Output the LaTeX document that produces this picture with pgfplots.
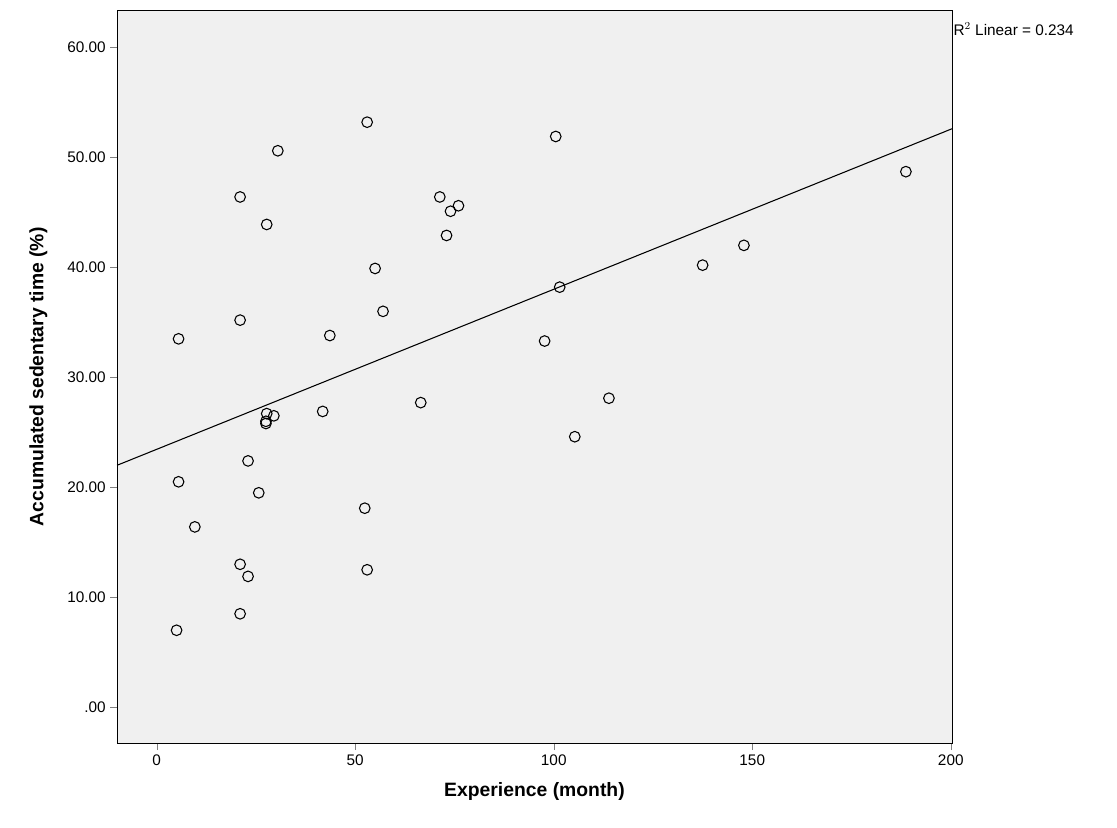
\documentclass[border=0pt]{standalone}
\usepackage{pgfplots}
\pgfplotsset{compat=1.18}
\usepackage{fontspec}
\setmainfont{Liberation Sans}
\definecolor{bg}{HTML}{F0F0F0}
\begin{document}
\begin{tikzpicture}
\begin{axis}[
  width=626pt, height=550pt, scale only axis,
  xmin=-10, xmax=200.3, ymin=-3.3, ymax=63.4,
  xtick={0,50,100,150,200},
  ytick={0,10,20,30,40,50,60},
  yticklabels={.00,10.00,20.00,30.00,40.00,50.00,60.00},
  tick align=outside, tick pos=left,
  major tick length=5pt,
  axis background/.style={fill=bg},
  ticklabel style={font=\fontsize{11.5}{13}\selectfont},
  /pgf/number format/assume math mode=true,
  xlabel={\bfseries Experience (month)},
  ylabel={\bfseries Accumulated sedentary time (\%)},
  label style={font=\fontsize{14.5}{16}\selectfont},
  xlabel style={yshift=-6pt},
  ylabel style={yshift=8pt},
  clip=false,
]
\addplot[only marks, mark=o, mark size=4pt, black, thick] coordinates {
(5.5,33.5)(5.5,20.5)(9.6,16.4)(5,7.0)(21,46.4)(21,35.2)(21,13.0)(23,11.9)
(21,8.5)(23,22.4)(25.7,19.5)(27.7,43.9)(30.5,50.6)(27.7,26.7)(29.5,26.5)
(27.5,26.0)(27.5,25.8)(41.8,26.9)(43.6,33.8)(53,53.2)(55,39.9)(57,36.0)
(52.4,18.1)(53,12.5)(66.5,27.7)(71.3,46.4)(74,45.1)(76,45.6)(73,42.9)
(100.5,51.9)(101.5,38.2)(97.7,33.3)(113.9,28.1)(105.3,24.6)(137.5,40.2)
(147.9,42.0)(188.7,48.7)};
\addplot[black, line width=0.8pt] coordinates {(-10,22.0)(200.3,52.6)};
\node[anchor=north west, font=\fontsize{11.5}{13}\selectfont, inner sep=1pt] at (rel axis cs:1,0.985) {R$^2$ Linear = 0.234};
\end{axis}
\path (current axis.south west) ++(-87.75pt,-63pt) (current axis.north east) ++(123.75pt,7.5pt);
\end{tikzpicture}
\end{document}
